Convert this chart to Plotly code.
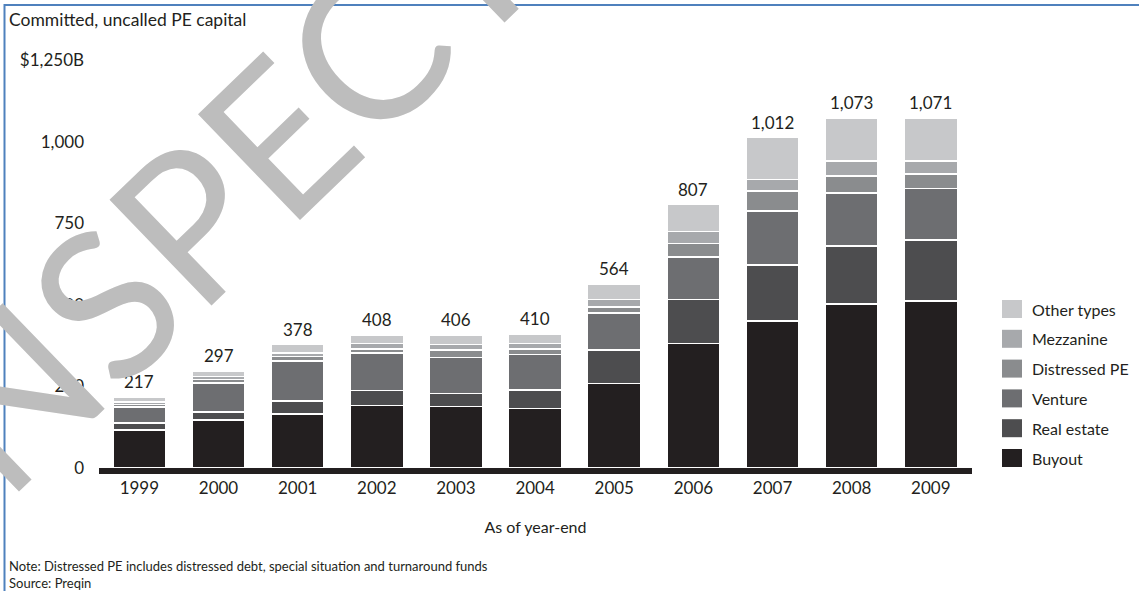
import plotly.graph_objects as go

# Committed, uncalled PE capital by fund type ($B, as of year-end)
years = ["1999", "2000", "2001", "2002", "2003", "2004", "2005", "2006", "2007", "2008", "2009"]
buyout = [116, 147, 165, 191, 188, 182, 259, 382, 450, 503, 511]
real_estate = [22, 24, 41, 46, 41, 57, 102, 135, 172, 177, 187]
venture = [49, 90, 122, 115, 110, 108, 114, 130, 165, 163, 158]
distressed_pe = [8, 10, 13, 13, 22, 18, 18, 41, 62, 52, 44]
mezzanine = [7, 10, 12, 17, 17, 17, 23, 36, 35, 46, 41]
other_types = [15, 16, 25, 26, 28, 28, 48, 83, 128, 132, 130]

y_tick_vals = [0, 250, 500, 750, 1000, 1250]
y_tick_text = ["0", "250", "500", "750", "1,000", "$1,250B"]

series = [
    ("Buyout", buyout, "#231f20"),
    ("Real estate", real_estate, "#4d4d4f"),
    ("Venture", venture, "#6d6e71"),
    ("Distressed PE", distressed_pe, "#8a8c8e"),
    ("Mezzanine", mezzanine, "#a7a9ac"),
    ("Other types", other_types, "#c7c8ca"),
]

totals = [sum(vals) for vals in zip(*[s[1] for s in series])]

W, H = 1139, 591
ML, MR, MT, MB = 99, 167, 60, 123
PW, PH = W - ML - MR, H - MT - MB
FONT = "Lato, 'Open Sans', sans-serif"
INK = "#231f20"


def px(x):
    return (x - ML) / PW


def py(y):
    return (H - MB - y) / PH


fig = go.Figure()
for name, vals, color in series:
    fig.add_trace(go.Bar(
        x=years, y=vals, name=name,
        marker=dict(color=color, line=dict(color="white", width=1.5)),
        showlegend=False, hoverinfo="x+y+name",
    ))

shapes = []
annotations = []

# total above each stacked bar (category index on the x axis)
for i, tot in enumerate(totals):
    annotations.append(dict(
        x=i, y=tot, xref="x", yref="y", xanchor="center", yanchor="bottom",
        yshift=3, showarrow=False, text=f"{tot:,}",
        font=dict(family=FONT, size=17, color=INK),
    ))

# legend, top entry = last stacked series
legend_top = 309
legend_step = 29.8
for i, (name, vals, color) in enumerate(reversed(series)):
    cy = legend_top + i * legend_step
    shapes.append(dict(
        type="rect", xref="paper", yref="paper",
        x0=px(1002), x1=px(1022), y0=py(cy + 9), y1=py(cy - 9),
        fillcolor=color, line=dict(width=0),
    ))
    annotations.append(dict(
        xref="paper", yref="paper", x=px(1030), y=py(cy),
        xanchor="left", yanchor="middle", showarrow=False,
        text=name, font=dict(family=FONT, size=16, color=INK),
    ))

annotations += [
    dict(xref="paper", yref="paper", x=px(7), y=py(20), xanchor="left", yanchor="middle",
         showarrow=False, text="Committed, uncalled PE capital",
         font=dict(family=FONT, size=17.5, color=INK)),
    dict(xref="paper", yref="paper", x=px(7), y=py(566), xanchor="left", yanchor="middle",
         showarrow=False,
         text="Note: Distressed PE includes distressed debt, special situation and turnaround funds",
         font=dict(family=FONT, size=13, color=INK)),
    dict(xref="paper", yref="paper", x=px(7), y=py(583), xanchor="left", yanchor="middle",
         showarrow=False, text="Source: Preqin",
         font=dict(family=FONT, size=13, color=INK)),
    # watermark
    dict(xref="paper", yref="paper", x=px(556), y=py(-137), xanchor="center", yanchor="middle",
         showarrow=False, text="INSPECTION COPY", textangle=-44,
         font=dict(family=FONT, size=205, color="#bdbdbd")),
]

# page frame
shapes.append(dict(
    type="rect", xref="paper", yref="paper",
    x0=px(4.5), x1=px(W + 10), y0=py(H + 10), y1=py(5),
    line=dict(color="#4f81bd", width=2), fillcolor="rgba(0,0,0,0)",
))

fig.update_layout(
    width=W, height=H,
    margin=dict(l=ML, r=MR, t=MT, b=MB, pad=0),
    barmode="stack", bargap=0.33,
    plot_bgcolor="white", paper_bgcolor="white",
    font=dict(family=FONT, size=17, color=INK),
    shapes=shapes, annotations=annotations,
    xaxis=dict(
        type="category", range=[-0.51, 10.52],
        showline=True, linecolor=INK, linewidth=6,
        showgrid=False, zeroline=False, ticks="",
        tickfont=dict(family=FONT, size=17, color=INK),
        title=dict(text="As of year-end", font=dict(family=FONT, size=16, color=INK), standoff=26),
    ),
    yaxis=dict(
        range=[0, 1250], tickvals=y_tick_vals, ticktext=y_tick_text,
        showline=False, showgrid=False, zeroline=False, ticks="",
        ticklabelstandoff=14,
        tickfont=dict(family=FONT, size=17, color=INK),
    ),
)

fig.write_html("out.html")
